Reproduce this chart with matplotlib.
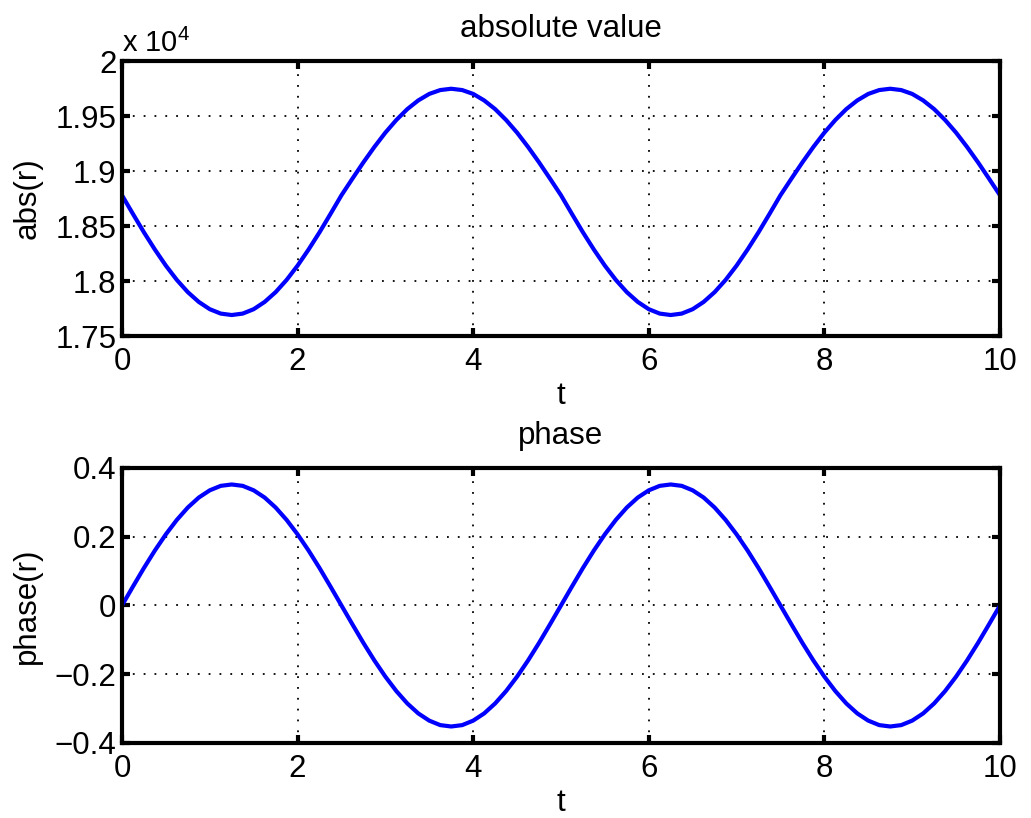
import numpy as np
import matplotlib

matplotlib.use("Agg")
import matplotlib.pyplot as plt
from matplotlib.ticker import FuncFormatter

# sample times, 0..10 in steps of 0.125
t = np.linspace(0, 10, 81)

# |r| over two periods (same reading per period)
abs_period = [18780, 18610, 18443, 18286, 18140, 18010, 17899, 17810, 17744, 17704,
              17691, 17704, 17744, 17810, 17899, 18010, 18140, 18286, 18443, 18610,
              18780, 18931, 19079, 19219, 19349, 19464, 19563, 19642, 19701, 19736,
              19748, 19736, 19701, 19642, 19563, 19464, 19349, 19219, 19079, 18931]
abs_r = abs_period + abs_period + [18780]

# phase of r
phase_period = [0.0, 0.055, 0.109, 0.160, 0.207, 0.249, 0.285, 0.314, 0.335, 0.348,
                0.352, 0.348, 0.335, 0.314, 0.285, 0.249, 0.207, 0.160, 0.109, 0.055,
                0.0, -0.055, -0.109, -0.160, -0.207, -0.249, -0.285, -0.314, -0.335, -0.348,
                -0.352, -0.348, -0.335, -0.314, -0.285, -0.249, -0.207, -0.160, -0.109, -0.055]
phase_r = phase_period + phase_period + [0.0]

x_ticks = [0, 2, 4, 6, 8, 10]
abs_ticks = [17500, 18000, 18500, 19000, 19500, 20000]
phase_ticks = [-0.4, -0.2, 0, 0.2, 0.4]

FS = 22.5
plt.rcParams["font.family"] = ["Liberation Sans", "DejaVu Sans"]
plt.rcParams["font.size"] = FS
plt.rcParams["mathtext.fontset"] = "custom"
plt.rcParams["mathtext.rm"] = "Liberation Sans"
plt.rcParams["mathtext.it"] = "Liberation Sans"
plt.rcParams["mathtext.bf"] = "Liberation Sans"


def fmt(v):
    s = "%g" % round(v, 2)
    return s.replace("-", "\u2212")


fig = plt.figure(figsize=(10.31, 8.18), dpi=100)
ax1 = fig.add_axes([0.1183, 0.5892, 0.8516, 0.3362])
ax2 = fig.add_axes([0.1183, 0.0917, 0.8516, 0.3362])


def style(ax):
    for s in ax.spines.values():
        s.set_linewidth(3)
    ax.tick_params(direction="in", length=6, width=3, top=True, right=True,
                   labelsize=FS)
    ax.tick_params(axis="x", pad=8)
    ax.tick_params(axis="y", pad=4)
    ax.grid(True, color="black", linestyle=(0, (1, 5)), linewidth=1.3)
    ax.set_xlim(0, 10)
    ax.set_xticks(x_ticks)
    ax.set_xlabel("t", fontsize=FS, labelpad=3)


ax1.plot(t, abs_r, color="#0000ff", linewidth=3)
style(ax1)
ax1.set_ylim(17500, 20000)
ax1.set_yticks(abs_ticks)
ax1.yaxis.set_major_formatter(FuncFormatter(lambda v, p: fmt(v / 1e4)))
ax1.set_ylabel("abs(r)", fontsize=FS, labelpad=9)
ax1.set_title("absolute value", fontsize=FS, pad=17)
ax1.text(0.0, 1.033, r"x 10$^{4}$", transform=ax1.transAxes, fontsize=21,
         ha="left", va="baseline")

ax2.plot(t, phase_r, color="#0000ff", linewidth=3)
style(ax2)
ax2.set_ylim(-0.4, 0.4)
ax2.set_yticks(phase_ticks)
ax2.yaxis.set_major_formatter(FuncFormatter(lambda v, p: fmt(v)))
ax2.set_ylabel("phase(r)", fontsize=FS, labelpad=9)
ax2.set_title("phase", fontsize=FS, pad=17)

fig.savefig("out.png", dpi=100, facecolor="white")
